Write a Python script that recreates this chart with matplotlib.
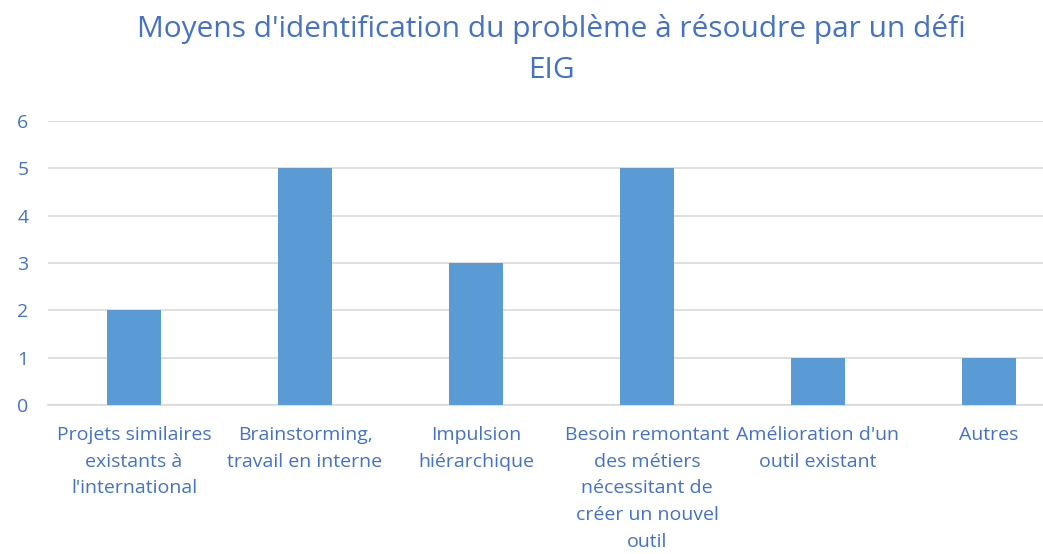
import matplotlib
matplotlib.use('Agg')
import matplotlib.pyplot as plt

# Chart data
categories = ["Projets similaires\nexistants à\nl'international",
              "Brainstorming,\ntravail en interne",
              "Impulsion\nhiérarchique",
              "Besoin remontant\ndes métiers\nnécessitant de\ncréer un nouvel\noutil",
              "Amélioration d'un\noutil existant",
              "Autres"]
counts = [2, 5, 3, 5, 1, 1]
yticks = [0, 1, 2, 3, 4, 5, 6]

barColor = '#5B9BD5'
textColor = '#4472C4'
gridColor = '#D9D9D9'

plt.rcParams['font.family'] = ['Open Sans', 'DejaVu Sans']

W, H = 1043, 554
fig = plt.figure(figsize=(W / 100, H / 100), dpi=100)
# axes in pixel coords: left 48, right 1043, bottom (y=0) 405, top (y=6) 121
ax = fig.add_axes([48 / W, 1 - 405 / H, (1043 - 48) / W, (405 - 121) / H])

x = list(range(len(categories)))
ax.bar(x, counts, width=0.316, color=barColor, zorder=3)

ax.set_ylim(0, 6)
ax.set_xlim(-0.503, 5.316)
ax.set_yticks(yticks)
ax.set_xticks(x)
ax.set_xticklabels(categories, fontsize=14, color=textColor,
                   linespacing=1.62)
ax.tick_params(axis='y', labelsize=14, labelcolor=textColor, length=0,
               pad=14)
ax.tick_params(axis='x', length=0, pad=15)
ax.yaxis.grid(True, color=gridColor, linewidth=1.2, zorder=0)
for s in ['top', 'right', 'left']:
    ax.spines[s].set_visible(False)
ax.spines['bottom'].set_color(gridColor)
ax.spines['bottom'].set_linewidth(1.2)

fig.text(551 / W, 1 - 29 / H, "Moyens d'identification du problème à résoudre par un défi",
         ha='center', va='center', fontsize=21.5, color=textColor)
fig.text(551 / W, 1 - 71 / H, "EIG", ha='center', va='center',
         fontsize=21.5, color=textColor)

fig.savefig('out.png', dpi=100)
